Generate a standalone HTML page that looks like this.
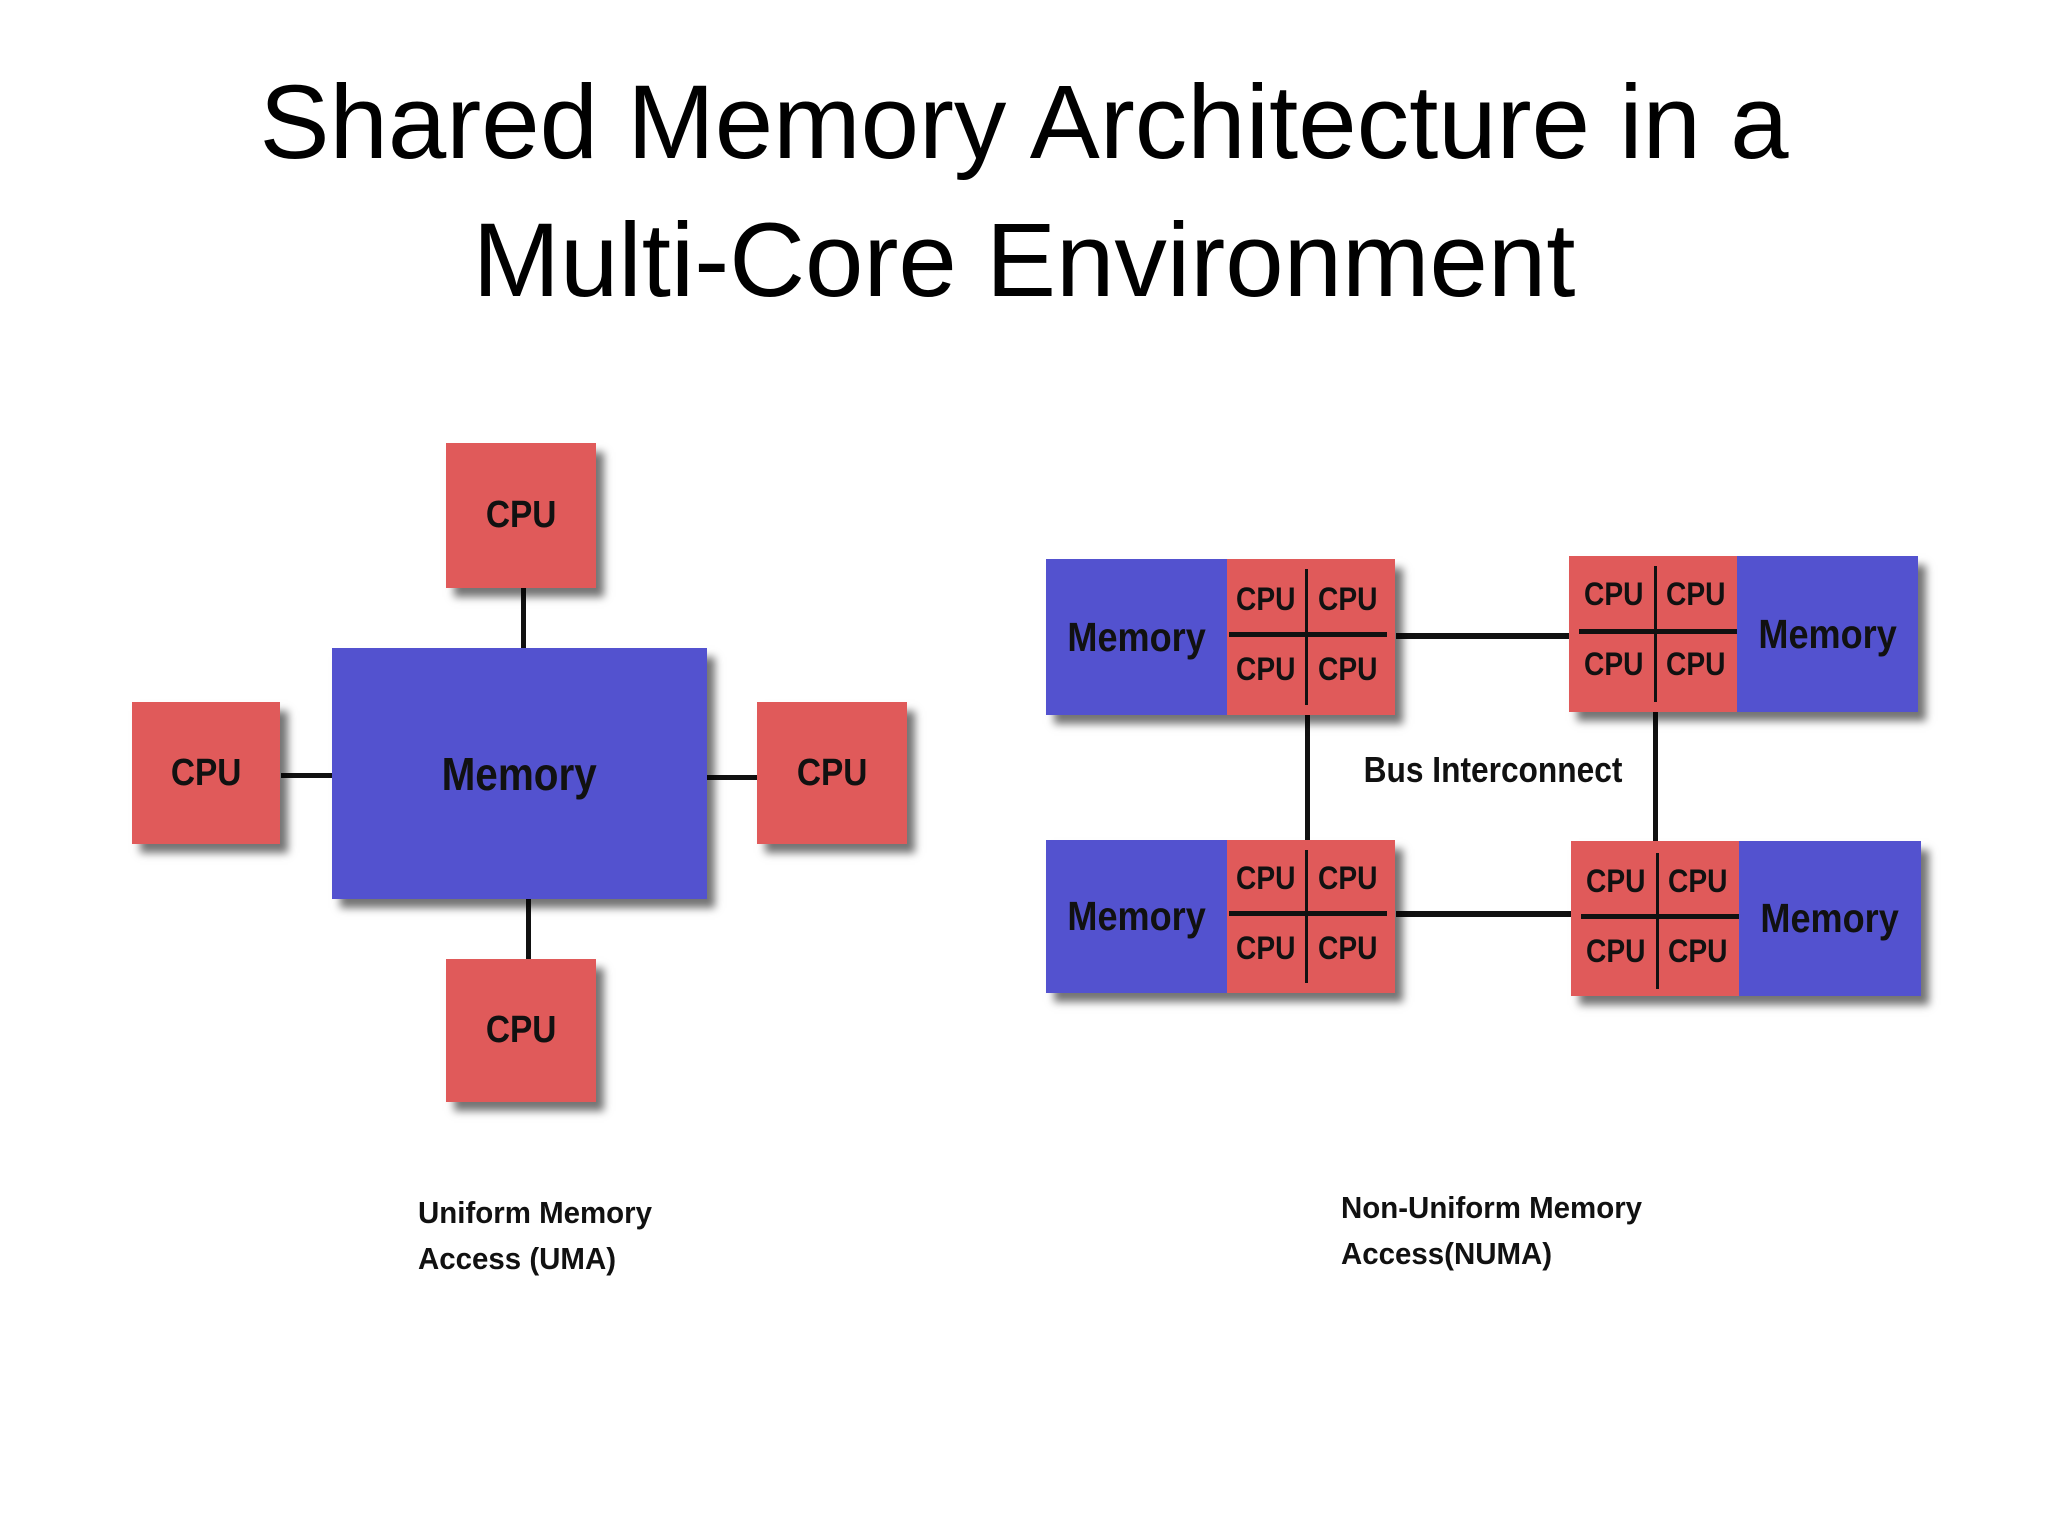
<!DOCTYPE html>
<html><head><meta charset="utf-8"><style>
html,body{margin:0;padding:0;background:#fff;}
body{width:2048px;height:1536px;position:relative;overflow:hidden;font-family:"Liberation Sans",sans-serif;}
.t{position:absolute;left:0;width:2048px;text-align:center;font-size:105px;color:#000;line-height:1;}
.b{position:absolute;box-shadow:8px 9px 8px rgba(0,0,0,0.55);}
.r{background:#e05a5a;}
.m{background:#5352cf;}
.lab{position:absolute;display:flex;align-items:center;justify-content:center;font-family:"Liberation Sans",sans-serif;font-weight:bold;color:#111;white-space:nowrap;}
.lab span{display:inline-block;transform:scaleX(.88);}
.ln{position:absolute;background:#111;}
.cap{position:absolute;font-family:"Liberation Sans",sans-serif;font-weight:bold;font-size:31px;color:#111;line-height:46px;transform:scaleX(.95);transform-origin:left top;white-space:nowrap;}
</style></head><body>
<div class="t" style="top:70px;">Shared Memory Architecture in a</div>
<div class="t" style="top:208px;">Multi-Core Environment</div>

<div class="ln" style="left:521px;top:588px;width:5px;height:62px;"></div>
<div class="ln" style="left:526px;top:897px;width:5px;height:64px;"></div>
<div class="ln" style="left:281px;top:773px;width:54px;height:5px;"></div>
<div class="ln" style="left:707px;top:775px;width:53px;height:5px;"></div>

<div class="b r lab" style="left:446px;top:443px;width:150px;height:145px;font-size:38px;"><span>CPU</span></div>
<div class="b m lab" style="left:332px;top:648px;width:375px;height:251px;font-size:46px;"><span>Memory</span></div>
<div class="b r lab" style="left:132px;top:702px;width:148px;height:142px;font-size:38px;"><span>CPU</span></div>
<div class="b r lab" style="left:757px;top:702px;width:150px;height:142px;font-size:38px;"><span>CPU</span></div>
<div class="b r lab" style="left:446px;top:959px;width:150px;height:143px;font-size:38px;"><span>CPU</span></div>

<div class="ln" style="left:1396px;top:633px;width:176px;height:6px;"></div>
<div class="ln" style="left:1396px;top:911px;width:176px;height:6px;"></div>
<div class="ln" style="left:1305px;top:715px;width:5px;height:126px;"></div>
<div class="ln" style="left:1653px;top:712px;width:5px;height:130px;"></div>
<div class="lab" style="left:1343px;top:745px;width:300px;height:50px;font-size:36px;"><span>Bus Interconnect</span></div>

<div class="b" style="left:1046px;top:559px;width:349px;height:156px;display:flex;">
 <div class="m lab" style="position:relative;width:181px;height:100%;font-size:41px;"><span>Memory</span></div>
 <div class="r" style="position:relative;width:168px;height:100%;">
  <div class="ln" style="left:78px;top:10px;width:3px;height:136px;"></div>
  <div class="ln" style="left:2px;top:73px;width:158px;height:5px;"></div>
  <div class="lab" style="left:0;top:10px;width:78px;height:60px;font-size:32px;"><span>CPU</span></div>
  <div class="lab" style="left:81px;top:10px;width:80px;height:60px;font-size:32px;"><span>CPU</span></div>
  <div class="lab" style="left:0;top:80px;width:78px;height:60px;font-size:32px;"><span>CPU</span></div>
  <div class="lab" style="left:81px;top:80px;width:80px;height:60px;font-size:32px;"><span>CPU</span></div>
 </div>
</div>
<div class="b" style="left:1569px;top:556px;width:349px;height:156px;display:flex;">
 <div class="r" style="position:relative;width:168px;height:100%;">
  <div class="ln" style="left:85px;top:10px;width:3px;height:136px;"></div>
  <div class="ln" style="left:10px;top:73px;width:158px;height:5px;"></div>
  <div class="lab" style="left:5px;top:8px;width:80px;height:60px;font-size:32px;"><span>CPU</span></div>
  <div class="lab" style="left:88px;top:8px;width:78px;height:60px;font-size:32px;"><span>CPU</span></div>
  <div class="lab" style="left:5px;top:78px;width:80px;height:60px;font-size:32px;"><span>CPU</span></div>
  <div class="lab" style="left:88px;top:78px;width:78px;height:60px;font-size:32px;"><span>CPU</span></div>
 </div>
 <div class="m lab" style="position:relative;width:181px;height:100%;font-size:41px;"><span>Memory</span></div>
</div>
<div class="b" style="left:1046px;top:840px;width:349px;height:153px;display:flex;">
 <div class="m lab" style="position:relative;width:181px;height:100%;font-size:41px;"><span>Memory</span></div>
 <div class="r" style="position:relative;width:168px;height:100%;">
  <div class="ln" style="left:78px;top:10px;width:3px;height:133px;"></div>
  <div class="ln" style="left:2px;top:71px;width:158px;height:5px;"></div>
  <div class="lab" style="left:0;top:8px;width:78px;height:60px;font-size:32px;"><span>CPU</span></div>
  <div class="lab" style="left:81px;top:8px;width:80px;height:60px;font-size:32px;"><span>CPU</span></div>
  <div class="lab" style="left:0;top:78px;width:78px;height:60px;font-size:32px;"><span>CPU</span></div>
  <div class="lab" style="left:81px;top:78px;width:80px;height:60px;font-size:32px;"><span>CPU</span></div>
 </div>
</div>
<div class="b" style="left:1571px;top:841px;width:350px;height:155px;display:flex;">
 <div class="r" style="position:relative;width:168px;height:100%;">
  <div class="ln" style="left:85px;top:12px;width:3px;height:136px;"></div>
  <div class="ln" style="left:10px;top:73px;width:158px;height:5px;"></div>
  <div class="lab" style="left:5px;top:10px;width:80px;height:60px;font-size:32px;"><span>CPU</span></div>
  <div class="lab" style="left:88px;top:10px;width:78px;height:60px;font-size:32px;"><span>CPU</span></div>
  <div class="lab" style="left:5px;top:80px;width:80px;height:60px;font-size:32px;"><span>CPU</span></div>
  <div class="lab" style="left:88px;top:80px;width:78px;height:60px;font-size:32px;"><span>CPU</span></div>
 </div>
 <div class="m lab" style="position:relative;width:182px;height:100%;font-size:41px;"><span>Memory</span></div>
</div>

<div class="cap" style="left:418px;top:1190px;">Uniform Memory<br>Access (UMA)</div>
<div class="cap" style="left:1341px;top:1185px;">Non-Uniform Memory<br>Access(NUMA)</div>
</body></html>
